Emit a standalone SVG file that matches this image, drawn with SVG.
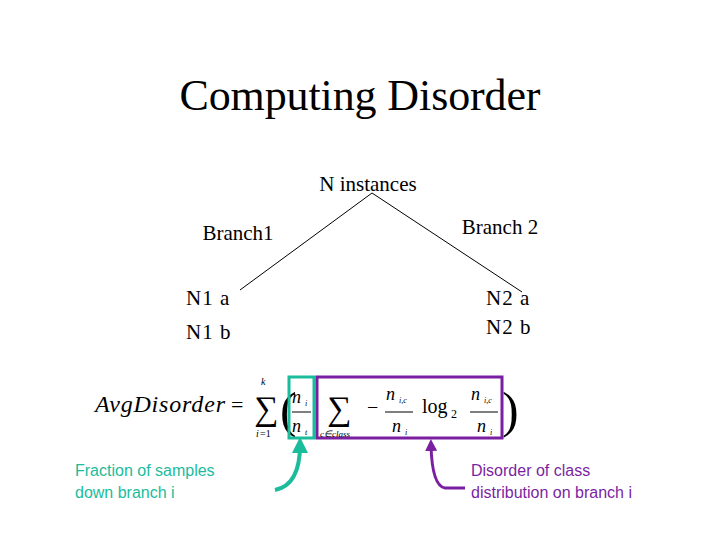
<svg xmlns="http://www.w3.org/2000/svg" width="720" height="540" viewBox="0 0 720 540">
<style>
.t{font-family:"Liberation Serif","Times New Roman",serif;fill:#000}
.m{font-family:"Liberation Serif","Times New Roman",serif;font-style:italic;fill:#000}
.s{font-family:"Liberation Sans",Arial,sans-serif;font-size:16px}
.ln{stroke:#000;stroke-width:1;fill:none}
</style>
<defs>
<marker id="ta" viewBox="0 0 10 10" refX="5" refY="5" markerWidth="4" markerHeight="4" orient="auto"><path d="M0,0L10,5L0,10z" fill="#1abc9c"/></marker>
<marker id="pa" viewBox="0 0 10 10" refX="5" refY="5" markerWidth="4" markerHeight="4" orient="auto"><path d="M0,0L10,5L0,10z" fill="#7b1fa2"/></marker>
</defs>
<rect width="720" height="540" fill="#fff"/>
<text class="t" x="360" y="110" font-size="44" text-anchor="middle" textLength="361">Computing Disorder</text>
<g id="connectors">
<line class="ln" x1="372" y1="193" x2="240" y2="290"/>
<line class="ln" x1="372" y1="193" x2="522" y2="292"/>
<path d="M275,490 Q300,485 300,445" stroke="#1abc9c" stroke-width="4" fill="none" marker-end="url(#ta)"/>
<path d="M465,488 L445,488 Q432,486 431,445" stroke="#7b1fa2" stroke-width="3" fill="none" marker-end="url(#pa)"/>
</g>
<g id="root"><text class="t" x="368" y="191" font-size="21" text-anchor="middle">N instances</text></g>
<g id="branch1"><text class="t" x="238" y="240" font-size="21" text-anchor="middle">Branch1</text></g>
<g id="branch2"><text class="t" x="500" y="234" font-size="21" text-anchor="middle">Branch 2</text></g>
<g id="leaf1"><text class="t" x="186" y="305" font-size="21" letter-spacing="1">N1 a</text><text class="t" x="186" y="339" font-size="21" letter-spacing="1">N1 b</text></g>
<g id="leaf2"><text class="t" x="486" y="305" font-size="21" letter-spacing="1">N2 a</text><text class="t" x="486" y="334" font-size="21" letter-spacing="1">N2 b</text></g>
<g id="formula">
<text class="m" x="95" y="412" font-size="24" textLength="130">AvgDisorder</text>
<text class="t" x="231" y="412" font-size="22">=</text>
<text class="t" x="254" y="420" font-size="34">∑</text>
<text class="m" x="261" y="385" font-size="10">k</text>
<text class="m" x="256" y="437" font-size="10">i</text><text class="t" x="260" y="437" font-size="10">=1</text>
<text class="t" x="280" y="427" font-size="50">(</text>
<text class="t" x="502" y="427" font-size="50">)</text>
<rect x="289" y="377" width="25" height="61" fill="none" stroke="#1abc9c" stroke-width="3"/>
<rect x="317" y="377" width="185" height="61" fill="none" stroke="#7b1fa2" stroke-width="3"/>
<text class="m" x="292" y="403" font-size="18">n</text><text class="m" x="305" y="406" font-size="8">i</text>
<line x1="292" y1="412" x2="311" y2="412" stroke="#000"/>
<text class="m" x="292" y="432" font-size="18">n</text><text class="m" x="305" y="435" font-size="8">t</text>
<text class="t" x="327" y="420" font-size="34">∑</text>
<text class="m" x="320" y="437" font-size="9">c∈class</text>
<text class="t" x="367" y="414" font-size="20">−</text>
<text class="m" x="386" y="400" font-size="18">n</text><text class="m" x="399" y="403" font-size="8">i,c</text>
<line x1="385" y1="412" x2="413" y2="412" stroke="#000"/>
<text class="m" x="392" y="432" font-size="18">n</text><text class="m" x="405" y="435" font-size="8">i</text>
<text class="t" x="422" y="413" font-size="20">log</text><text class="t" x="451" y="418" font-size="12">2</text>
<text class="m" x="471" y="400" font-size="18">n</text><text class="m" x="484" y="403" font-size="8">i,c</text>
<line x1="470" y1="412" x2="498" y2="412" stroke="#000"/>
<text class="m" x="477" y="432" font-size="18">n</text><text class="m" x="490" y="435" font-size="8">i</text>
</g>
<g id="note1"><text class="s" x="75" y="476" fill="#1abc9c">Fraction of samples</text><text class="s" x="75" y="498" fill="#1abc9c">down branch i</text></g>
<g id="note2"><text class="s" x="471" y="476" fill="#7b1fa2">Disorder of class</text><text class="s" x="471" y="498" fill="#7b1fa2">distribution on branch i</text></g>
</svg>
